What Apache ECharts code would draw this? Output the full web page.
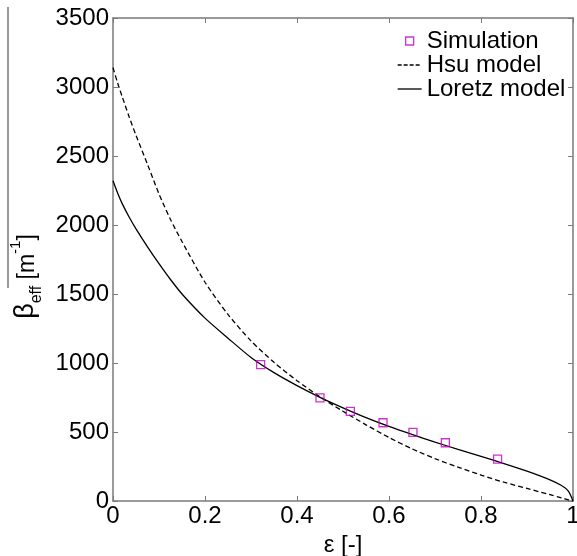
<!DOCTYPE html>
<html>
<head>
<meta charset="utf-8">
<script src="https://cdn.jsdelivr.net/npm/echarts@6/dist/echarts.min.js"></script>
<style>
html,body{margin:0;padding:0;background:#fff;}
#c{width:577px;height:556px;}
</style>
</head>
<body>
<div id="c"></div>
<script>
// ---- data ----
const xTicks = [0, 0.2, 0.4, 0.6, 0.8, 1];
const yTicks = [0, 500, 1000, 1500, 2000, 2500, 3000, 3500];

const simX = [0.321, 0.45, 0.516, 0.587, 0.652, 0.7225, 0.836];
const simY = [988, 748, 650, 567, 498, 422, 304];

const modelX = [0, 0.01, 0.02, 0.035, 0.05, 0.075, 0.1, 0.125, 0.15, 0.2, 0.25, 0.3, 0.35, 0.4, 0.45, 0.5, 0.55, 0.6, 0.65, 0.7, 0.75, 0.8, 0.85, 0.9, 0.95, 0.975, 0.99, 1];
const hsuY = [3140, 3030, 2930, 2785, 2650, 2440, 2225, 2040, 1880, 1585, 1352, 1160, 1005, 872, 755, 650, 552, 460, 378, 307, 245, 188, 136, 91, 46, 23, 9, 0];
const loretzY = [2320, 2232, 2155, 2058, 1972, 1842, 1720, 1605, 1500, 1325, 1180, 1040, 930, 836, 751, 675, 604, 540, 482, 427, 374, 323, 271, 216, 153, 112, 72, 0];

const seriesNames = ['Simulation', 'Hsu model', 'Loretz model'];

// ---- chart ----
const pair = (xs, ys) => xs.map((x, i) => [x, ys[i]]);
const FONT = 'Arial, "Liberation Sans", sans-serif';
const AX = '#7a7a7a';

const chart = echarts.init(document.getElementById('c'), null, {renderer: 'canvas'});

const baseX = {
  type: 'value', min: 0, max: 1, interval: 0.2,
  axisLine: {show: true, onZero: false, lineStyle: {color: AX, width: 1.5}},
  axisTick: {show: true, inside: true, length: 5, lineStyle: {color: AX, width: 1}},
  splitLine: {show: false}
};
const baseY = {
  type: 'value', min: 0, max: 3500, interval: 500,
  axisLine: {show: true, onZero: false, lineStyle: {color: AX, width: 1.5}},
  axisTick: {show: true, inside: true, length: 5, lineStyle: {color: AX, width: 1}},
  splitLine: {show: false}
};

chart.setOption({
  animation: false,
  backgroundColor: '#fff',
  grid: {left: 113, right: 4, top: 18, bottom: 55, containLabel: false, outerBoundsMode: 'none'},
  xAxis: [
    Object.assign({}, baseX, {
      position: 'bottom',
      name: 'ε [-]', nameLocation: 'middle', nameGap: 27,
      nameTextStyle: {fontFamily: FONT, fontSize: 24, color: '#000'},
      axisLabel: {show: true, margin: 3, fontFamily: FONT, fontSize: 24, color: '#000',
        formatter: v => xTicks.includes(+v.toFixed(1)) ? String(+v.toFixed(1)) : ''}
    }),
    Object.assign({}, baseX, {position: 'top', axisLabel: {show: false}})
  ],
  yAxis: [
    Object.assign({}, baseY, {
      position: 'left',
      name: '{b|β}{s|eff}{n| [m}{p|-1}{n|]}',
      nameLocation: 'middle', nameRotate: 90, nameGap: 72,
      nameTextStyle: {
        fontFamily: FONT, color: '#000', fontSize: 24,
        padding: [0, 34, 0, 0],
        rich: {
          b: {fontFamily: FONT, fontSize: 27, color: '#000', verticalAlign: 'bottom', lineHeight: 30},
          s: {fontFamily: FONT, fontSize: 16, color: '#000', verticalAlign: 'bottom', lineHeight: 30, padding: [0, 0, -6, 0]},
          n: {fontFamily: FONT, fontSize: 23, color: '#000', verticalAlign: 'bottom', lineHeight: 30},
          p: {fontFamily: FONT, fontSize: 15, color: '#000', verticalAlign: 'top', lineHeight: 30}
        }
      },
      axisLabel: {show: true, margin: 4, fontFamily: FONT, fontSize: 24, color: '#000',
        formatter: v => yTicks.includes(v) ? String(v) : ''}
    }),
    Object.assign({}, baseY, {position: 'right', axisLabel: {show: false}})
  ],
  legend: {
    orient: 'vertical', left: 397, top: 29, padding: 0,
    itemWidth: 24, itemHeight: 8, itemGap: 0,
    textStyle: {fontFamily: FONT, fontSize: 24, color: '#000', lineHeight: 24},
    data: [
      {name: seriesNames[0], icon: 'path://M0,0H10V10H0Z',
        itemStyle: {color: '#fff', borderColor: '#c000c0', borderWidth: 1.3}},
      {name: seriesNames[1], itemStyle: {opacity: 0},
        lineStyle: {color: '#000', width: 1.3, type: [4, 2]}},
      {name: seriesNames[2], itemStyle: {opacity: 0},
        lineStyle: {color: '#000', width: 1.3, type: 'solid'}}
    ]
  },
  series: [
    {
      name: seriesNames[0], type: 'scatter', xAxisIndex: 0, yAxisIndex: 0,
      symbol: 'rect', symbolSize: 8, z: 5,
      itemStyle: {color: 'rgba(255,255,255,0)', borderColor: '#c000c0', borderWidth: 1.3},
      data: pair(simX, simY)
    },
    {
      name: seriesNames[1], type: 'line', xAxisIndex: 0, yAxisIndex: 0,
      symbol: 'none', showSymbol: false, smooth: 0.25,
      lineStyle: {color: '#000', width: 1.3, type: [5, 3]},
      itemStyle: {color: '#000'},
      data: pair(modelX, hsuY)
    },
    {
      name: seriesNames[2], type: 'line', xAxisIndex: 0, yAxisIndex: 0,
      symbol: 'none', showSymbol: false, smooth: 0.25,
      lineStyle: {color: '#000', width: 1.3, type: 'solid'},
      itemStyle: {color: '#000'},
      data: pair(modelX, loretzY)
    }
  ],
  graphic: [
    {type: 'line', shape: {x1: 8, y1: 7, x2: 8, y2: 288}, style: {stroke: '#555', lineWidth: 1.2}, silent: true}
  ]
});
</script>
</body>
</html>
